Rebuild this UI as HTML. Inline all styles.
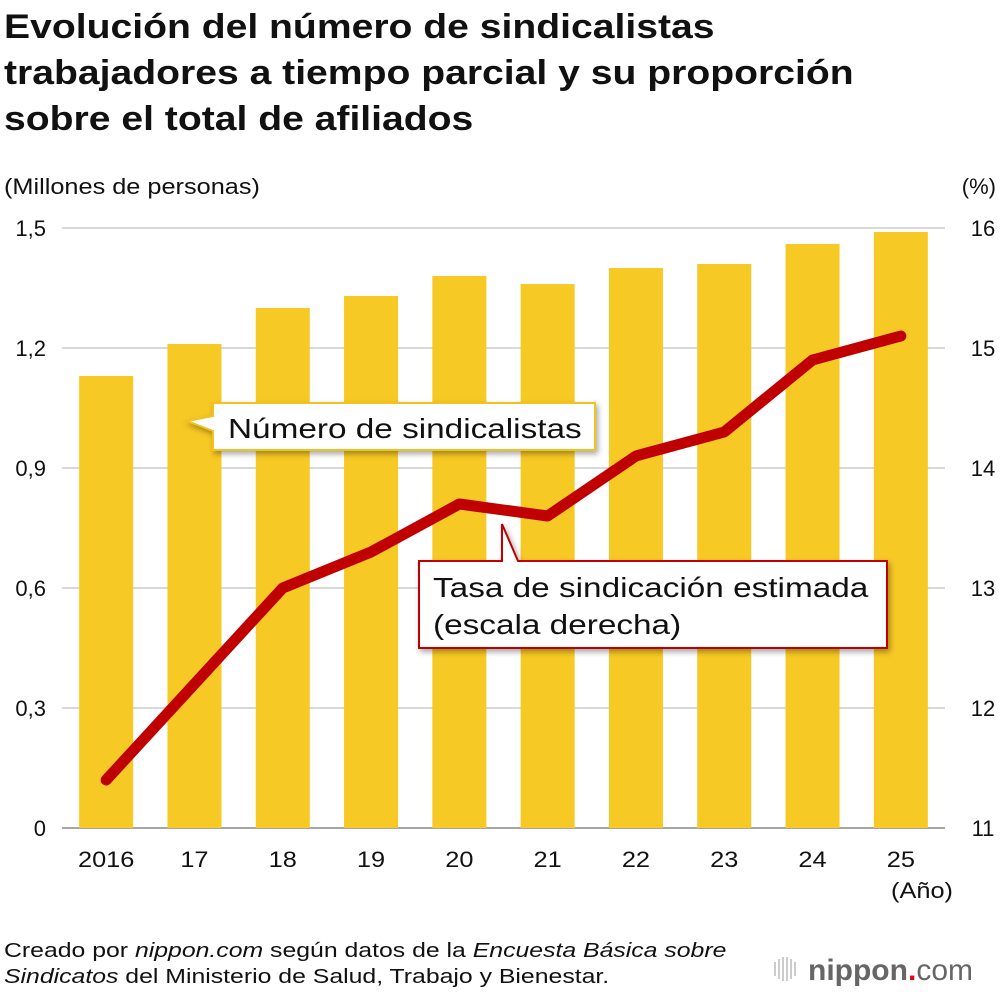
<!DOCTYPE html>
<html><head><meta charset="utf-8"><style>
body{margin:0;background:#fff;font-family:"Liberation Sans",sans-serif;}
svg text{font-family:"Liberation Sans",sans-serif;}
</style></head><body>
<svg id="c" width="1000" height="996" viewBox="0 0 1000 996">
<text class="w" x="4" y="38" font-size="34" font-weight="bold" fill="#111">Evolución del número de sindicalistas</text>
<text class="w" x="4" y="84" font-size="34" font-weight="bold" fill="#111">trabajadores a tiempo parcial y su proporción</text>
<text class="w" x="4" y="130" font-size="34" font-weight="bold" fill="#111">sobre el total de afiliados</text>
<text class="w" x="4" y="194" font-size="22" fill="#111">(Millones de personas)</text>
<text x="996" y="194" font-size="22" fill="#111" text-anchor="end">(%)</text>
<g id="grid"></g><g id="bars"></g><g id="line"></g><g id="axes"></g>
<g>
<path d="M213,403 H595 V450 H213 V431 L187,421 L213,416 Z" fill="#fff" stroke="#f3c21f" stroke-width="2" style="filter:drop-shadow(2px 3px 3px rgba(0,0,0,.35))"/>
<text class="w" data-f="1.19" x="228" y="438" font-size="28" fill="#111">Número de sindicalistas</text>
</g>
<g>
<path d="M419,561 H502 L502,524 L518,561 H887 V648 H419 Z" fill="#fff" stroke="#c00000" stroke-width="2" style="filter:drop-shadow(2px 3px 3px rgba(0,0,0,.35))"/>
<text class="w" data-f="1.19" x="433" y="597" font-size="28" fill="#111">Tasa de sindicación estimada</text>
<text class="w" data-f="1.19" x="433" y="634" font-size="28" fill="#111">(escala derecha)</text>
</g>
<text class="w" data-f="1.24" x="4" y="957" font-size="20" fill="#111">Creado por <tspan font-style="italic">nippon.com</tspan> según datos de la <tspan font-style="italic">Encuesta Básica sobre</tspan></text>
<text class="w" data-f="1.24" x="4" y="983" font-size="20" fill="#111"><tspan font-style="italic">Sindicatos</tspan> del Ministerio de Salud, Trabajo y Bienestar.</text>
<g>
<g stroke="#bbb" stroke-width="1.5"><line x1="775" y1="962" x2="775" y2="976"/><line x1="779" y1="959" x2="779" y2="979"/><line x1="783" y1="957" x2="783" y2="981"/><line x1="787" y1="957" x2="787" y2="981"/><line x1="791" y1="959" x2="791" y2="979"/><line x1="795" y1="962" x2="795" y2="976"/></g>
<text x="808" y="980" font-size="30" font-weight="bold" fill="#666">nippon<tspan fill="#e60012">.</tspan><tspan font-weight="normal">com</tspan></text>
</g>
</svg>
<script>
const years=["2016","17","18","19","20","21","22","23","24","25"];
const members=[1.13,1.21,1.30,1.33,1.38,1.36,1.40,1.41,1.46,1.49];
const rate=[11.4,12.2,13.0,13.3,13.7,13.6,14.1,14.3,14.9,15.1];
const leftTicks=[0,0.3,0.6,0.9,1.2,1.5];
const rightTicks=[11,12,13,14,15,16];
const NS="http://www.w3.org/2000/svg";
const x0=62,x1=945,yB=828,yT=228;
const step=(x1-x0)/years.length;
const xc=i=>x0+step*(i+0.5);
const yL=v=>yB-(v/1.5)*(yB-yT);
const yR=v=>yB-((v-11)/5)*(yB-yT);
function mk(tag,attrs,parent){const e=document.createElementNS(NS,tag);for(const k in attrs)e.setAttribute(k,attrs[k]);document.getElementById(parent).appendChild(e);return e;}
leftTicks.forEach((t,i)=>{
 const g=mk('line',{x1:x0,x2:x1,y1:yL(t),y2:yL(t),stroke:i==0?'#888':'#ccc','stroke-width':1.5},'grid');
 
 
 const l=mk('text',{x:46,y:yL(t)+8,'font-size':22,'text-anchor':'end',fill:'#111'},'axes');
 l.textContent=String(t).replace('.',',');
 
 
});
rightTicks.forEach(t=>{
 const l=mk('text',{x:983,y:yR(t)+8,'font-size':22,'text-anchor':'middle',fill:'#111'},'axes');
 l.textContent=t;
 
 
});
years.forEach((y,i)=>{
 const b=mk('rect',{x:xc(i)-27,width:54,y:yL(members[i]),height:yB-yL(members[i]),fill:'#f7c925'},'bars');
 
 
 const l=mk('text',{x:xc(i),y:867,'font-size':22,'text-anchor':'middle',fill:'#111'},'axes');
 l.textContent=y;
 
 
 l.classList.add('w');
});
const u=mk('text',{x:922,y:898,'font-size':22,'text-anchor':'middle',fill:'#111'},'axes');
u.textContent='(Año)';


u.classList.add('w');
const p=mk('polyline',{points:rate.map((v,i)=>xc(i)+','+yR(v)).join(' '),fill:'none',stroke:'#c00000','stroke-width':11,'stroke-linejoin':'round','stroke-linecap':'round'},'line');


document.querySelectorAll('text.w').forEach(t=>{
 const w=t.getComputedTextLength();
 const f=parseFloat(t.getAttribute('data-f')||'1.15');
 t.setAttribute('textLength',(w*f).toFixed(1));
 t.setAttribute('lengthAdjust','spacingAndGlyphs');
});
</script>
</body></html>
